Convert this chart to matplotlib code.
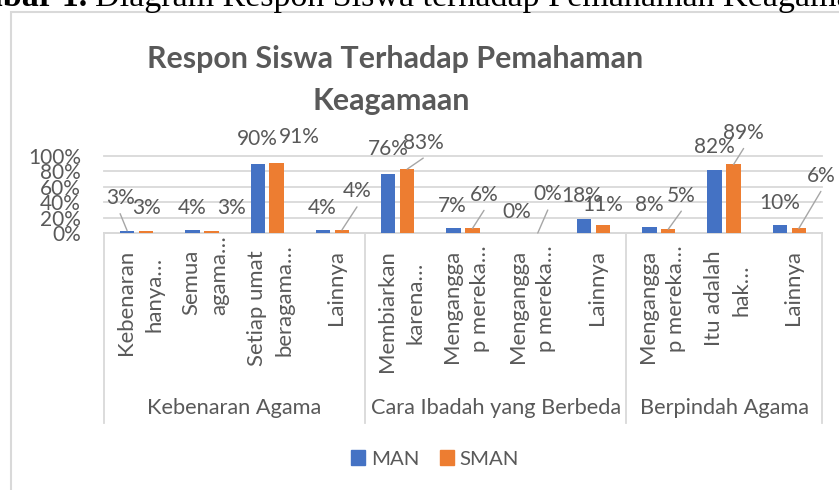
import matplotlib
matplotlib.use("Agg")
import matplotlib.pyplot as plt
import matplotlib.transforms as mtransforms
from matplotlib.patches import Rectangle, Patch
from matplotlib.lines import Line2D

# ---------------- data ----------------
caption_bold = "Gambar 1."
caption_text = "Diagram Respon Siswa terhadap Pemahaman Keagamaan"
title_lines = ["Respon Siswa Terhadap Pemahaman", "Keagamaan"]
groups = ["Kebenaran Agama", "Cara Ibadah yang Berbeda", "Berpindah Agama"]
group_sizes = [4, 4, 3]
categories = ["Kebenaran\nhanya…", "Semua\nagama…", "Setiap umat\nberagama…", "Lainnya",
              "Membiarkan\nkarena…", "Mengangga\np mereka…", "Mengangga\np mereka…", "Lainnya",
              "Mengangga\np mereka…", "Itu adalah\nhak…", "Lainnya"]
series_names = ["MAN", "SMAN"]
man = [0.03, 0.04, 0.90, 0.04, 0.76, 0.07, 0.00, 0.18, 0.08, 0.82, 0.10]
sman = [0.03, 0.03, 0.91, 0.04, 0.83, 0.06, 0.00, 0.11, 0.05, 0.89, 0.06]
yticks = [0, 0.2, 0.4, 0.6, 0.8, 1.0]
ytick_labels = ["0%", "20%", "40%", "60%", "80%", "100%"]

# ---------------- label placement (pixels, image orientation: +x right, +y down) ----------------
man_off = [(-7, -34), (0, -23), (0, -26), (-1, -23), (0, -26.5), (-1.5, -23.6),
           (-2, -23), (-2, -25), (0, -23), (0, -24), (0, -24)]
sman_off = [(0, -24), (20.6, -24), (23, -27), (15, -40), (16, -28), (11.5, -35),
            (10, -40), (0, -21.5), (13, -35), (10, -33), (22, -54)]
man_lead = [True, False, False, False, False, False, False, False, False, False, False]
sman_lead = [False, False, False, True, True, True, True, False, True, True, True]

# ---------------- style ----------------
W, H = 839, 490
SANS = ["Lato", "DejaVu Sans"]
SERIF = ["Liberation Serif", "DejaVu Serif"]
GRAY = "#595959"
GRID = "#d9d9d9"
LEAD = "#a6a6a6"
BLUE = "#4472C4"
ORANGE = "#ED7D31"

fig = plt.figure(figsize=(W / 100, H / 100), dpi=100)
fig.patch.set_facecolor("white")
renderer = fig.canvas.get_renderer()


def fit(s, target, family=SANS, weight="normal"):
    t = fig.text(0, 0, s, fontsize=20, family=family, weight=weight)
    w = t.get_window_extent(renderer).width
    t.remove()
    return 20 * target / w


fs_data = fit("90%", 41)
fs_tick = fit("Membiarkan", 122)
fs_group = fit("Kebenaran Agama", 175)
fs_title = fit(title_lines[0], 494, weight="bold")
fs_leg = fit("SMAN", 59)
fs_cap = fit("Diagram Respon Siswa terhadap Pemahaman Keagam", 744, family=SERIF)

# chart border
fig.add_artist(Rectangle((11 / W, -0.1), 1.2, (1 - 12 / H) + 0.1, transform=fig.transFigure,
                         fill=False, ec=GRID, lw=1.5))

# caption (cut off at the top of the page)
fig.text(87 / W, 1 - 6 / H, caption_bold, family=SERIF, weight="bold", fontsize=fs_cap,
         ha="right", va="baseline", color="black")
fig.text(95 / W, 1 - 6 / H, caption_text, family=SERIF, fontsize=fs_cap,
         ha="left", va="baseline", color="black")

# title
fig.text(395 / W, 1 - 68 / H, title_lines[0], ha="center", va="baseline", fontsize=fs_title,
         weight="bold", color=GRAY, family=SANS)
fig.text(391 / W, 1 - 110 / H, title_lines[1], ha="center", va="baseline", fontsize=fs_title,
         weight="bold", color=GRAY, family=SANS)

# axes
left, right, top, bottom = 104, 822, 156, 233
ax = fig.add_axes([left / W, 1 - bottom / H, (right - left) / W, (bottom - top) / H])
n = len(categories)
xs = list(range(n))
bw = 0.22
off = 0.1455
ax.bar([i - off for i in xs], man, bw, color=BLUE, zorder=3)
ax.bar([i + off for i in xs], sman, bw, color=ORANGE, zorder=3)
ax.set_xlim(-0.5, n - 0.5)
ax.set_ylim(0, 1)
ax.set_yticks(yticks)
ax.set_yticklabels(ytick_labels)
ax.tick_params(axis="y", length=0, pad=23 * 0.72, labelsize=fs_data, labelcolor=GRAY)
for lab in ax.get_yticklabels():
    lab.set_family(SANS)
ax.set_xticks([])
ax.grid(axis="y", color=GRID, lw=1.3, zorder=0)
for gl in ax.get_ygridlines():
    gl.set_clip_on(False)
for s in ax.spines.values():
    s.set_visible(False)
ax.patch.set_alpha(0)

# category axis box lines
xt = ax.get_xaxis_transform()
depth = (423 - 233) / (233 - 156)
bounds = [-0.5]
for g in group_sizes:
    bounds.append(bounds[-1] + g)
for b in bounds:
    ax.add_line(Line2D([b, b], [0, -depth], transform=xt, color=GRID, lw=1.3, clip_on=False))
ax.add_line(Line2D([-0.5, n - 0.5], [0, 0], transform=xt, color=GRID, lw=1.3, clip_on=False))

# data labels
for vals, sign, offs, leads in [(man, -1, man_off, man_lead), (sman, 1, sman_off, sman_lead)]:
    for i, v in enumerate(vals):
        bx = i + sign * off
        dx, dy = offs[i]
        ax.annotate(f"{round(v * 100)}%", xy=(bx, v), xytext=(dx, -(dy + 7.5)),
                    textcoords="offset pixels", ha="center", va="baseline",
                    fontsize=fs_data, color=GRAY, family=SANS, annotation_clip=False)
        if leads[i]:
            ax.annotate("", xy=(bx, v), xytext=(dx, -dy - 17), textcoords="offset pixels",
                        arrowprops=dict(arrowstyle="-", color=LEAD, lw=1.0, shrinkA=0, shrinkB=0),
                        annotation_clip=False)

# category tick labels (rotated, wrapped)
axis_disp_y = ax.transAxes.transform((0, 0))[1]
line_gap = 28
for i, lab in enumerate(categories):
    lines = lab.split("\n")
    k = len(lines)
    cy = None
    for j, line in enumerate(lines):
        dxp = 3.5 + (j - (k - 1) / 2) * line_gap
        if j == 0:
            tr = mtransforms.offset_copy(xt, fig=fig, x=dxp, y=-17, units="dots")
            t = ax.text(i, 0, line, transform=tr, rotation=90, ha="center", va="top",
                        fontsize=fs_tick, color=GRAY, family=SANS, clip_on=False)
            bb = t.get_window_extent(renderer)
            cy = (bb.y0 + bb.y1) / 2
        else:
            ty = cy + 8 - axis_disp_y
            tr = mtransforms.offset_copy(xt, fig=fig, x=dxp, y=ty, units="dots")
            ax.text(i, 0, line, transform=tr, rotation=90, ha="center", va="center",
                    fontsize=fs_tick, color=GRAY, family=SANS, clip_on=False)

# group labels
for gi, g in enumerate(groups):
    center = (bounds[gi] + bounds[gi + 1]) / 2
    tr = mtransforms.offset_copy(xt, fig=fig, x=0, y=-(413.5 - 233), units="dots")
    ax.text(center, 0, g, transform=tr, ha="center", va="baseline", fontsize=fs_group,
            color=GRAY, family=SANS, clip_on=False)

# legend
em = fs_leg * 100 / 72
handles = [Patch(color=BLUE), Patch(color=ORANGE)]
fig.legend(handles, series_names, loc="center", bbox_to_anchor=(435 / W, 1 - 459 / H), ncol=2,
           frameon=False, prop={"family": SANS, "size": fs_leg}, labelcolor=GRAY,
           handlelength=14 / em, handleheight=14 / em, handletextpad=6 / em,
           columnspacing=20 / em, borderpad=0, borderaxespad=0)

fig.savefig("out.png", dpi=100)
